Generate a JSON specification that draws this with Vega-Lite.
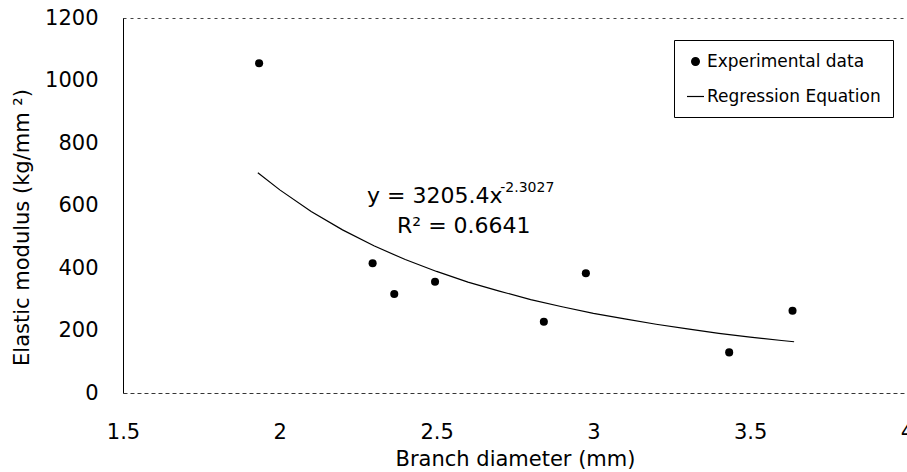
{
  "$schema": "https://vega.github.io/schema/vega-lite/v6.json",
  "width": 784,
  "height": 375,
  "autosize": {"type": "none"},
  "padding": {"left": 123, "top": 18, "right": 0, "bottom": 79},
  "background": "white",
  "config": {
    "font": "DejaVu Sans",
    "view": {"stroke": "#444", "strokeDash": [3, 4], "strokeWidth": 1},
    "axis": {
      "grid": false,
      "ticks": false,
      "labelColor": "black",
      "titleColor": "black",
      "labelFont": "DejaVu Sans",
      "titleFont": "DejaVu Sans",
      "labelFontSize": 21,
      "titleFontSize": 21,
      "titleFontWeight": "normal"
    }
  },
  "datasets": {
    "points": [
      {"diameter": 1.934, "modulus": 1055, "series": "Experimental data"},
      {"diameter": 2.296, "modulus": 415, "series": "Experimental data"},
      {"diameter": 2.365, "modulus": 317, "series": "Experimental data"},
      {"diameter": 2.495, "modulus": 356, "series": "Experimental data"},
      {"diameter": 2.842, "modulus": 228, "series": "Experimental data"},
      {"diameter": 2.976, "modulus": 383, "series": "Experimental data"},
      {"diameter": 3.433, "modulus": 130, "series": "Experimental data"},
      {"diameter": 3.635, "modulus": 263, "series": "Experimental data"}
    ],
    "curve": [
      {"diameter": 1.93, "modulus": 705, "series": "Regression Equation"},
      {"diameter": 2.0, "modulus": 650, "series": "Regression Equation"},
      {"diameter": 2.1, "modulus": 581, "series": "Regression Equation"},
      {"diameter": 2.2, "modulus": 522, "series": "Regression Equation"},
      {"diameter": 2.3, "modulus": 471, "series": "Regression Equation"},
      {"diameter": 2.4, "modulus": 427, "series": "Regression Equation"},
      {"diameter": 2.5, "modulus": 389, "series": "Regression Equation"},
      {"diameter": 2.6, "modulus": 355, "series": "Regression Equation"},
      {"diameter": 2.7, "modulus": 326, "series": "Regression Equation"},
      {"diameter": 2.8, "modulus": 299, "series": "Regression Equation"},
      {"diameter": 2.9, "modulus": 276, "series": "Regression Equation"},
      {"diameter": 3.0, "modulus": 255, "series": "Regression Equation"},
      {"diameter": 3.1, "modulus": 237, "series": "Regression Equation"},
      {"diameter": 3.2, "modulus": 220, "series": "Regression Equation"},
      {"diameter": 3.3, "modulus": 205, "series": "Regression Equation"},
      {"diameter": 3.4, "modulus": 191, "series": "Regression Equation"},
      {"diameter": 3.5, "modulus": 179, "series": "Regression Equation"},
      {"diameter": 3.6, "modulus": 168, "series": "Regression Equation"},
      {"diameter": 3.64, "modulus": 164, "series": "Regression Equation"}
    ]
  },
  "encoding": {
    "x": {
      "field": "diameter",
      "type": "quantitative",
      "scale": {"domain": [1.5, 4], "nice": false, "zero": false},
      "axis": {
        "title": "Branch diameter (mm)",
        "values": [1.5, 2, 2.5, 3, 3.5, 4],
        "format": ".1~f",
        "labelFlush": false,
        "labelOverlap": false,
        "labelPadding": 28,
        "titlePadding": 6,
        "domainColor": "#333",
        "domainDash": [3, 4]
      }
    },
    "y": {
      "field": "modulus",
      "type": "quantitative",
      "scale": {"domain": [0, 1200], "nice": false},
      "axis": {
        "title": "Elastic modulus (kg/mm ²)",
        "values": [0, 200, 400, 600, 800, 1000, 1200],
        "format": "d",
        "labelPadding": 25,
        "titlePadding": 12,
        "titleY": 209,
        "domainColor": "black"
      }
    }
  },
  "layer": [
    {
      "data": {"name": "curve"},
      "mark": {"type": "line", "strokeWidth": 1.2},
      "encoding": {
        "color": {
          "field": "series",
          "type": "nominal",
          "scale": {"domain": ["Experimental data", "Regression Equation"], "range": ["black", "black"]},
          "legend": {
            "title": null,
            "orient": "none",
            "legendX": 551,
            "legendY": 22,
            "padding": 12,
            "rowPadding": 17,
            "labelFontSize": 17,
            "labelFont": "DejaVu Sans",
            "labelColor": "black",
            "labelOffset": 2,
            "labelLimit": 400,
            "symbolSize": 289,
            "strokeColor": "black",
            "fillColor": "white",
            "encode": {
              "symbols": {
                "update": {
                  "shape": {"signal": "datum.value === 'Experimental data' ? 'circle' : 'stroke'"},
                  "size": {"signal": "datum.value === 'Experimental data' ? 60 : 289"},
                  "fill": {"signal": "datum.value === 'Experimental data' ? 'black' : 'transparent'"},
                  "stroke": {"value": "black"},
                  "strokeWidth": {"value": 1.2}
                }
              }
            }
          }
        }
      }
    },
    {
      "data": {"name": "points"},
      "mark": {"type": "point", "filled": true, "size": 65, "opacity": 1},
      "encoding": {
        "color": {"field": "series", "type": "nominal"}
      }
    },
    {
      "data": {"values": [{"diameter": 2.278, "modulus": 608, "label": "y = 3205.4x"}]},
      "mark": {"type": "text", "align": "left", "baseline": "alphabetic", "fontSize": 22, "font": "DejaVu Sans", "color": "black"},
      "encoding": {"text": {"field": "label"}}
    },
    {
      "data": {"values": [{"diameter": 2.703, "modulus": 643, "label": "-2.3027"}]},
      "mark": {"type": "text", "align": "left", "baseline": "alphabetic", "fontSize": 14, "font": "DejaVu Sans", "color": "black"},
      "encoding": {"text": {"field": "label"}}
    },
    {
      "data": {"values": [{"diameter": 2.374, "modulus": 512, "label": "R² = 0.6641"}]},
      "mark": {"type": "text", "align": "left", "baseline": "alphabetic", "fontSize": 22, "font": "DejaVu Sans", "color": "black"},
      "encoding": {"text": {"field": "label"}}
    }
  ]
}
